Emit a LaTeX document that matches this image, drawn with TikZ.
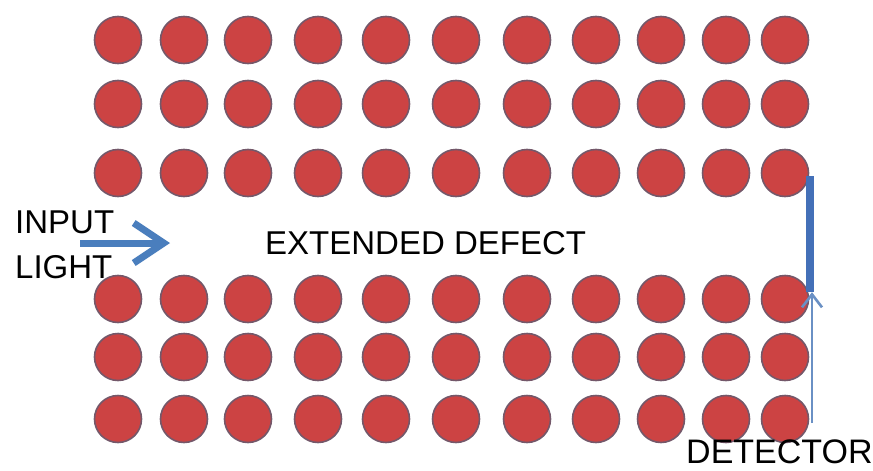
\documentclass[tikz,border=0pt]{standalone}
\usepackage{fontspec}
\setmainfont{Liberation Sans}
\usetikzlibrary{arrows.meta}
\definecolor{rodred}{HTML}{CC4343}
\definecolor{rodedge}{HTML}{74586A}
\definecolor{arrowblue}{HTML}{4A7EBD}
\definecolor{detblue}{HTML}{4470B8}
\definecolor{thinblue}{HTML}{6A90C4}
\begin{document}
\begin{tikzpicture}[x=1pt,y=-1pt,
  rod/.style={circle,fill=rodred,draw=rodedge,line width=1.6pt,minimum size=47pt,inner sep=0pt},
  label/.style={inner sep=0pt,font=\fontsize{33}{33}\selectfont,text=black},
  detbar/.style={fill=detblue,draw=none,minimum width=8pt,minimum height=116pt,inner sep=0pt},
  inarrow/.style={draw=arrowblue,line width=7pt,-{Straight Barb[length=30pt,width=40pt]}},
  detarrow/.style={draw=thinblue,line width=2.6pt,-{Straight Barb[length=13pt,width=20pt,line width=2.6pt]}}]
\useasboundingbox (0,0) rectangle (873,471);
\fill[white] (0,0) rectangle (873,471);
% rows of rods
\foreach \r/\y in {1/40,2/104,3/173,4/299,5/357,6/419}{
  \foreach \c/\x in {1/118,2/184,3/248,4/318,5/386,6/456,7/527,8/596,9/661,10/726,11/785}{
    \node[rod] (r\r c\c) at (\x,\y) {};
  }
}
% texts
\node[label,anchor=base west] (input) at (15,233) {INPUT};
\node[label,anchor=base west] (light) at (15,278) {LIGHT};
\node[label,anchor=base west] (defect) at (265,254) {EXTENDED DEFECT};
\node[label,anchor=base west,font=\fontsize{34}{34}\selectfont] (detlabel) at (686,463) {DETECTOR};
% input light arrow
\coordinate (inA) at (80,243);
\coordinate (inB) at (170,243);
\draw[inarrow] (inA) -- (inB);
% detector
\node[detbar] (det) at (810,234) {};
\coordinate (detfoot) at (812,423);
\draw[detarrow] (detfoot) -- (detfoot |- det.south);
\end{tikzpicture}
\end{document}
